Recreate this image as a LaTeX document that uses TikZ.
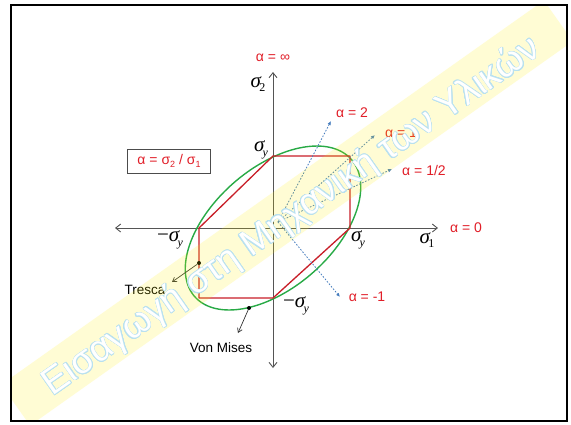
\documentclass[tikz,border=0pt]{standalone}
\usepackage{fontspec}
\setmainfont{Liberation Sans}
\newfontfamily\tnr{Liberation Serif}
\usepackage[copies]{contour}
\usetikzlibrary{arrows.meta}
\definecolor{lblred}{RGB}{225,30,40}
\definecolor{hexred}{RGB}{200,30,40}
\definecolor{vmgreen}{RGB}{40,170,70}
\definecolor{dotblue}{RGB}{70,125,190}
\definecolor{axgray}{RGB}{85,85,85}
\definecolor{wmblue}{RGB}{185,225,240}
\newcommand{\sigl}[1]{{\tnr\itshape σ}\kern-0.08em\raisebox{-0.22em}{\fontsize{12}{12}\selectfont\tnr #1}}
\newcommand{\ssub}[1]{\raisebox{-0.25em}{\fontsize{9}{9}\selectfont #1}}
\begin{document}
\begin{tikzpicture}[x=1pt,y=-1pt,
  axis/.style={draw=axgray, line width=0.9pt, {Straight Barb[length=5pt,width=8pt]}-{Straight Barb[length=5pt,width=8pt]}},
  lbl/.style={text=lblred, font=\fontsize{14}{14}\selectfont, inner sep=1pt},
  sig/.style={font=\fontsize{21}{21}\selectfont, inner sep=0pt},
  ray/.style={draw=dotblue, line width=0.8pt, dash pattern=on 1.6pt off 1.6pt, -{Latex[length=4pt,width=3.5pt]}},
  ann/.style={draw=black!80, line width=0.7pt, -{Straight Barb[length=4pt,width=5pt]}},
  annlbl/.style={font=\fontsize{13.5}{13.5}\selectfont, inner sep=1pt},
  hex/.style={draw=hexred, line width=1.3pt, line join=round},
  vm/.style={draw=vmgreen, line width=1.4pt},
  dot/.style={circle, fill=black, inner sep=0pt, minimum size=4pt}
]
\useasboundingbox (0,0) rectangle (571,424);
\fill[white] (0,0) rectangle (571,424);

% axes
\coordinate (O) at (273,228);
\coordinate (xl) at (115,228);
\coordinate (xr) at (438,228);
\coordinate (yt) at (273,72);
\coordinate (yb) at (273,368);
\draw[axis] (xl) -- (xr);
\draw[axis] (yb) -- (yt);

% von Mises ellipse
\draw[vm] plot[domain=0:360, samples=145, smooth]
  ({273+76*(cos(\x)+sin(\x)/sqrt(3))}, {228-71*(cos(\x)-sin(\x)/sqrt(3))});

% Tresca hexagon
\coordinate (A) at (273,156);
\coordinate (B) at (350,156);
\coordinate (C) at (350,228);
\coordinate (D) at (273,298);
\coordinate (E) at (199,298);
\coordinate (F) at (199,228);
\draw[hex] (A) -- (B) -- (C) -- (D) -- (E) -- (F) -- cycle;

% rays
\coordinate (S) at (278,222);
\coordinate (T2) at (331,121);
\coordinate (T1) at (375,135);
\coordinate (Th) at (392,169);
\coordinate (Tm) at (340,297);
\draw[ray] (S) -- (T2);
\draw[ray] (S) -- (T1);
\draw[ray] (S) -- (Th);
\draw[ray] (S) -- (Tm);

% alpha labels
\node[lbl] (ainf) at (273,58) {α = ∞};
\node[lbl] (a2) at (352,113) {α = 2};
\node[lbl] (a1) at (401,133) {α = 1};
\node[lbl] (ah) at (424,170) {α = 1/2};
\node[lbl] (a0) at (466,228) {α = 0};
\node[lbl] (am) at (367,297) {α = -1};

% sigma labels
\node[sig] (s2) at (258,84) {\sigl{2}};
\node[sig] (syt) at (261,150) {\sigl{\itshape y}};
\node[sig] (syr) at (358,240) {\sigl{\itshape y}};
\node[sig] (s1) at (427,240) {\sigl{1}};
\node[sig] (syl) at (170,240) {{\tnr −}\sigl{\itshape y}};
\node[sig] (syb) at (296,306) {{\tnr −}\sigl{\itshape y}};

% definition box
\node[draw=black!70, line width=0.8pt, fill=white, minimum width=83pt, minimum height=24pt, lbl] (def) at (169,161) {α = σ\ssub{2} / σ\ssub{1}};

% Tresca / von Mises annotations
\node[dot] (td) at (199,263) {};
\coordinate (tt) at (172,282);
\node[annlbl] (tl) at (145,290) {Tresca};
\draw[ann] (td) -- (tt);
\node[dot] (vd) at (249,308) {};
\coordinate (vt) at (238,333);
\node[annlbl] (vl) at (221,348) {Von Mises};
\draw[ann] (vd) -- (vt);

% watermark
\begin{scope}
\clip (12,6) rectangle (566,420);
\node[fill=yellow, fill opacity=0.17, minimum width=665pt, minimum height=50pt, rotate=35.3, inner sep=0pt] (band) at (287,213) {};
\node[rotate=35, text=white, inner sep=0pt, font=\fontsize{37}{37}\selectfont] (wm) at (292,217)
  {\contourlength{0.5pt}\contour{wmblue}{Εισαγωγή στη Μηχανική των Υλικών}};
\end{scope}

% frame
\draw[black, line width=2pt] (11,5) rectangle (567,421);
\end{tikzpicture}
\end{document}
